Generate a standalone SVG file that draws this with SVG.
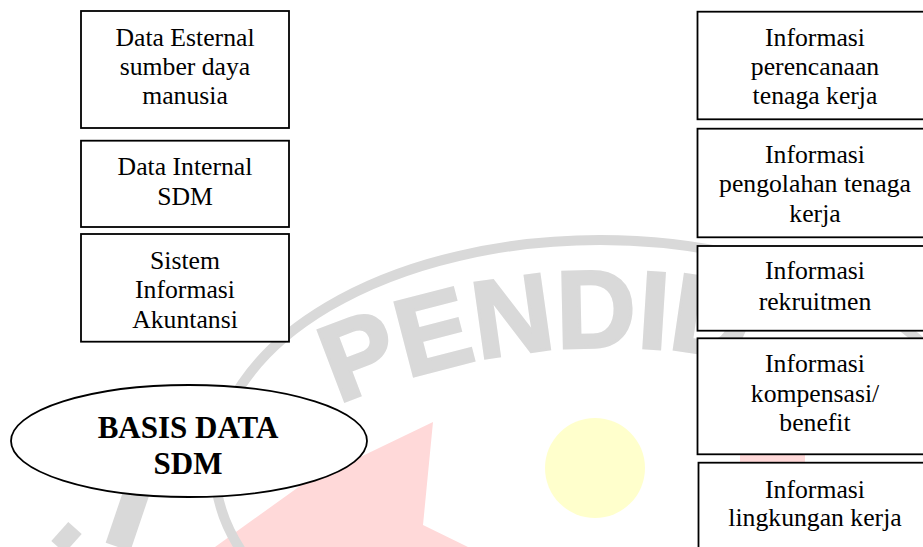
<svg xmlns="http://www.w3.org/2000/svg" width="923" height="547" viewBox="0 0 923 547">
<style>
.box{fill:#fff;stroke:#000;stroke-width:1.8}
.t{font-family:"Liberation Serif","Times New Roman",serif;font-size:25.7px;text-anchor:middle;fill:#000}
.b{font-weight:bold;font-size:31px}
.wm{fill:#d9d9d9;stroke:#d9d9d9;stroke-width:3;stroke-linejoin:miter}
.wms{fill:none;stroke:#d9d9d9}
</style>
<defs>
<path id="arcText" d="M 32.4 680.5 A 667 667 0 0 1 1187.6 680.5"/>
</defs>
<g id="watermark">
<rect width="923" height="547" fill="#fff"/>
<polygon points="433,422 423,525 468,547 215,547 300,486" fill="#ffd9d9"/>
<polygon points="740,440 805,440 805,470 740,470" fill="#ffd9d9"/>
<circle cx="595" cy="468" r="50" fill="#ffffcc"/>
<ellipse class="wms" cx="600" cy="468" rx="385" ry="228" stroke-width="10"/>
<line class="wms" x1="140" y1="482" x2="118" y2="547" stroke-width="26"/>
<line class="wms" x1="75" y1="528" x2="58" y2="547" stroke-width="18"/>
<text class="wm" font-family="Liberation Sans, Arial, sans-serif" font-weight="bold" font-size="110"><textPath href="#arcText" startOffset="419">PENDID</textPath></text>
</g>
<g id="connectors"></g>
<g id="n-esternal">
<rect class="box" x="81" y="11" width="208" height="117"/>
<text class="t" x="185" y="45.5">Data Esternal</text>
<text class="t" x="185" y="74.8">sumber daya</text>
<text class="t" x="185" y="104.1">manusia</text>
</g>
<g id="n-internal">
<rect class="box" x="81" y="140.7" width="208" height="86.3"/>
<text class="t" x="185" y="175">Data Internal</text>
<text class="t" x="185" y="204.5">SDM</text>
</g>
<g id="n-sia">
<rect class="box" x="81" y="234" width="208" height="107.7"/>
<text class="t" x="185" y="268.8">Sistem</text>
<text class="t" x="185" y="298.3">Informasi</text>
<text class="t" x="185" y="327.8">Akuntansi</text>
</g>
<g id="n-basisdata">
<ellipse class="box" cx="189" cy="441" rx="178" ry="56"/>
<text class="t b" x="188" y="438.3">BASIS DATA</text>
<text class="t b" x="188" y="474">SDM</text>
</g>
<g id="n-perencanaan">
<rect class="box" x="697.5" y="11.7" width="240" height="107.6"/>
<text class="t" x="815" y="45.7">Informasi</text>
<text class="t" x="815" y="75">perencanaan</text>
<text class="t" x="815" y="104.3">tenaga kerja</text>
</g>
<g id="n-pengolahan">
<rect class="box" x="697.5" y="128.7" width="240" height="108.6"/>
<text class="t" x="815" y="162.7">Informasi</text>
<text class="t" x="815" y="192.2">pengolahan tenaga</text>
<text class="t" x="815" y="221.7">kerja</text>
</g>
<g id="n-rekruitmen">
<rect class="box" x="697.5" y="246" width="240" height="84.7"/>
<text class="t" x="815" y="279.3">Informasi</text>
<text class="t" x="815" y="309.8">rekruitmen</text>
</g>
<g id="n-kompensasi">
<rect class="box" x="697.5" y="338.3" width="240" height="116"/>
<text class="t" x="815" y="372">Informasi</text>
<text class="t" x="815" y="401.5">kompensasi/</text>
<text class="t" x="815" y="431">benefit</text>
</g>
<g id="n-lingkungan">
<rect class="box" x="698.5" y="462.7" width="240" height="100"/>
<text class="t" x="815" y="497.5">Informasi</text>
<text class="t" x="815" y="526.3">lingkungan kerja</text>
</g>
</svg>
